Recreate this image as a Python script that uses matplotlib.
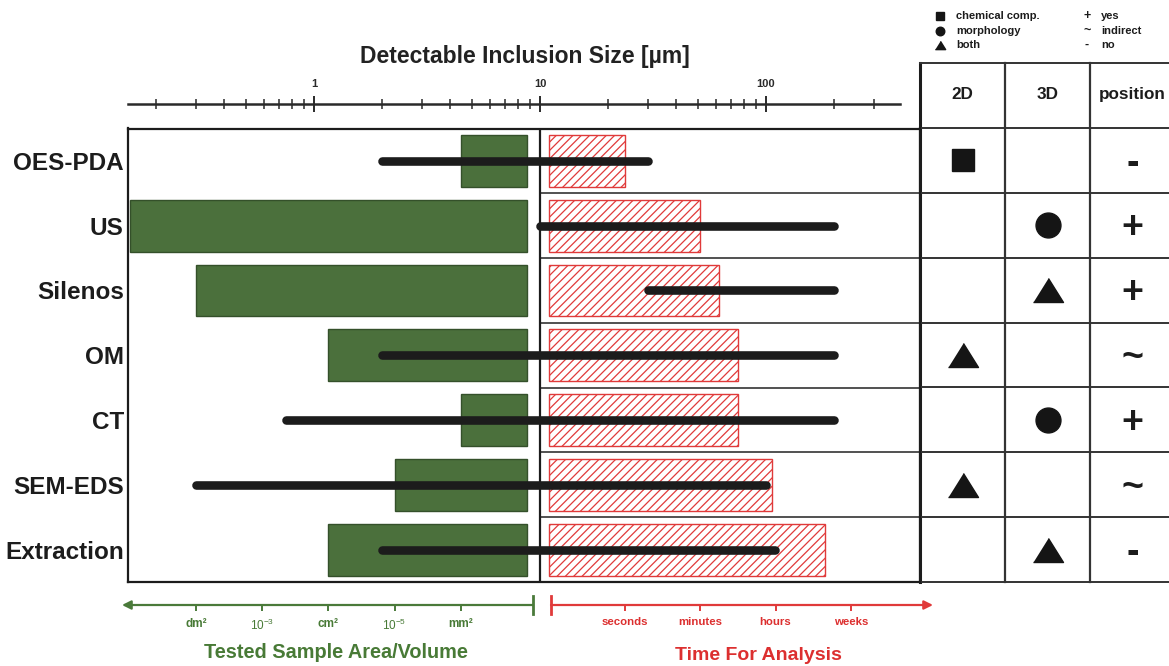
import numpy as np
import matplotlib
matplotlib.use("Agg")
import matplotlib.pyplot as plt
from matplotlib.lines import Line2D
from matplotlib.ticker import LogLocator, NullFormatter, NullLocator, FuncFormatter

# ---------------------------------------------------------------- data
methods = ["OES-PDA", "US", "Silenos", "OM", "CT", "SEM-EDS", "Extraction"]

# detectable inclusion size range [µm]
size_min = [2, 10, 30, 2, 0.75, 0.3, 2]
size_max = [30, 200, 200, 200, 200, 100, 110]

# tested sample area / volume (upper end, m^2); bars start from area_origin
area_tested = [1e-6, 1e-1, 1e-2, 1e-4, 1e-6, 1e-5, 1e-4]
area_origin = 1e-7
area_tick_values = [1e-2, 1e-3, 1e-4, 1e-5, 1e-6]
area_tick_labels = ["dm²", r"$\mathregular{10^{-3}}$", "cm²",
                    r"$\mathregular{10^{-5}}$", "mm²"]
area_tick_bold = [True, False, True, False, True]

# time for analysis (1 = seconds, 2 = minutes, 3 = hours, 4 = weeks)
time_needed = [1.0, 2.0, 2.25, 2.5, 2.5, 2.95, 3.65]
time_tick_values = [1, 2, 3, 4]
time_tick_labels = ["seconds", "minutes", "hours", "weeks"]

# information content: marker in 2D / 3D column, position symbol
info_2d = ["square", None, None, "triangle", None, "triangle", None]
info_3d = [None, "circle", "triangle", None, "circle", None, "triangle"]
position = ["-", "+", "+", "~", "+", "~", "-"]
table_headers = ["2D", "3D", "position"]

marker_legend = [("square", "chemical comp."), ("circle", "morphology"), ("triangle", "both")]
position_legend = [("+", "yes"), ("~", "indirect"), ("-", "no")]

# ---------------------------------------------------------------- style
plt.rcParams["font.family"] = ["Liberation Sans", "DejaVu Sans"]
plt.rcParams["font.weight"] = "bold"
plt.rcParams["mathtext.fontset"] = "custom"
plt.rcParams["mathtext.rm"] = "Liberation Sans"
plt.rcParams["mathtext.it"] = "Liberation Sans:italic"
plt.rcParams["mathtext.bf"] = "Liberation Sans:bold"
plt.rcParams["hatch.linewidth"] = 0.9

GREEN_FILL = "#4b703c"
GREEN_EDGE = "#34502a"
GREEN_LINE = "#4a7a3a"
GREEN_TEXT = "#487a36"
RED = "#e03a3a"
RED_TEXT = "#dc2f2f"
INK = "#1c1c1c"
GRID = "#333333"

MARKERS = {
    "square": ("s", 1.0),
    "circle": ("o", 1.12),
    "triangle": ([(-1, -0.8), (1, -0.8), (0, 0.8)], 1.35),
}

W, H = 1169, 666
fig = plt.figure(figsize=(W / 100, H / 100), dpi=100, facecolor="white")


def box(x0, y0, x1, y1):
    """Axes rectangle from pixel coordinates measured from the top-left."""
    return [x0 / W, 1 - y1 / H, (x1 - x0) / W, (y1 - y0) / H]


# pixel -> value relations of the three horizontal scales
def size_at(p):
    return 10 ** ((p - 314) / 226.0)


def area_at(p):
    return 10 ** (-2 - (p - 196) / 66.2)


def time_at(p):
    return (p - 549) / 75.5


BOX_L, BOX_R, BOX_T, BOX_B = 128, 920, 128.5, 582
DIV = 539
n = len(methods)
rows = np.arange(n)
ylim = (n - 0.5, -0.5)

# ---------------------------------------------------------------- tested area bars
ax_area = fig.add_axes(box(BOX_L, BOX_T, DIV, BOX_B))
ax_area.set_xscale("log")
ax_area.set_xlim(area_at(BOX_L), area_at(DIV))
ax_area.set_ylim(*ylim)
ax_area.axis("off")
ax_area.barh(rows, [a - area_origin for a in area_tested], left=area_origin,
             height=0.8, color=GREEN_FILL, edgecolor=GREEN_EDGE, linewidth=1.0)

# ---------------------------------------------------------------- analysis time bars
ax_time = fig.add_axes(box(DIV, BOX_T, BOX_R, BOX_B))
t0, t1 = time_at(DIV), time_at(BOX_R)
ax_time.set_xlim(t0, t1)
ax_time.set_ylim(*ylim)
ax_time.axis("off")
ax_time.barh(rows, time_needed, left=0, height=0.8, facecolor="white",
             edgecolor=RED, hatch="////", linewidth=1.0)
ax_time.hlines(np.arange(0.5, n - 0.5), t0, t1, color=GRID, linewidth=1.2)

# ---------------------------------------------------------------- inclusion size ranges
ax = fig.add_axes(box(BOX_L, BOX_T, BOX_R, BOX_B))
ax.set_zorder(3)
ax.patch.set_visible(False)
ax.set_xscale("log")
ax.set_xlim(size_at(BOX_L), size_at(BOX_R))
ax.set_ylim(*ylim)
for i in rows:
    ax.plot([size_min[i], size_max[i]], [i, i], color=INK, linewidth=6.2,
            solid_capstyle="round", zorder=4)
ax.axvline(10, color=INK, linewidth=1.6, zorder=3)
for s in ax.spines.values():
    s.set_linewidth(1.6)
    s.set_color(INK)
ax.set_xticks([])
ax.xaxis.set_minor_locator(NullLocator())
ax.set_yticks(rows, methods)
ax.tick_params(axis="y", length=0, pad=3, labelsize=17.5, labelcolor=INK)

# ---------------------------------------------------------------- top size scale
ax_s = fig.add_axes(box(128, 104, 899.5, 104))
ax_s.patch.set_visible(False)
ax_s.set_xscale("log")
ax_s.set_xlim(size_at(128), size_at(899.5))
for k, s in ax_s.spines.items():
    s.set_visible(k == "top")
ax_s.spines["top"].set_linewidth(1.8)
ax_s.spines["top"].set_color("#2a2a2a")
ax_s.set_yticks([])
ax_s.xaxis.set_ticks_position("top")
ax_s.xaxis.set_label_position("top")
ax_s.xaxis.set_major_locator(LogLocator(base=10))
ax_s.xaxis.set_minor_locator(LogLocator(base=10, subs=np.arange(2, 10)))
ax_s.xaxis.set_major_formatter(FuncFormatter(lambda v, _: f"{v:g}"))
ax_s.xaxis.set_minor_formatter(NullFormatter())
ax_s.tick_params(axis="x", which="major", direction="inout", length=12, width=1.4,
                 colors="#2a2a2a", labelsize=8, pad=5)
ax_s.tick_params(axis="x", which="minor", direction="inout", length=7, width=1.1,
                 colors="#2a2a2a")

fig.text(525 / W, 1 - 57 / H, "Detectable Inclusion Size [µm]", ha="center",
         va="center", fontsize=16.5, color="#222222")

# ---------------------------------------------------------------- bottom area axis
ax_ga = fig.add_axes(box(122, 596, 533, 614))
ax_ga.patch.set_visible(False)
ax_ga.set_xscale("log")
ga0, ga1 = area_at(122), area_at(533)
ax_ga.set_xlim(ga0, ga1)
ax_ga.set_ylim(-1, 1)
for s in ax_ga.spines.values():
    s.set_visible(False)
ax_ga.spines["bottom"].set_position(("data", 0))
ax_ga.set_yticks([])
ax_ga.annotate("", xy=(ga0, 0), xytext=(ga1, 0),
               arrowprops=dict(arrowstyle="-|>", color=GREEN_LINE, lw=1.6,
                               mutation_scale=13, shrinkA=0, shrinkB=0))
ax_ga.plot([ga1, ga1], [-1, 1], color=GREEN_LINE, linewidth=2.0, clip_on=False)
ax_ga.xaxis.set_minor_locator(NullLocator())
ax_ga.set_xticks(area_tick_values, area_tick_labels)
ax_ga.tick_params(axis="x", direction="out", length=4.5, width=1.4, color=GREEN_LINE,
                  labelcolor=GREEN_TEXT, labelsize=8.5, pad=5)
for lbl, bold in zip(ax_ga.get_xticklabels(), area_tick_bold):
    lbl.set_fontweight("bold" if bold else "normal")
fig.text(336 / W, 1 - 652 / H, "Tested Sample Area/Volume", ha="center",
         va="center", fontsize=14.3, color=GREEN_TEXT)

# ---------------------------------------------------------------- bottom time axis
ax_ta = fig.add_axes(box(551, 596, 933, 614))
ax_ta.patch.set_visible(False)
ta0, ta1 = time_at(551), time_at(933)
ax_ta.set_xlim(ta0, ta1)
ax_ta.set_ylim(-1, 1)
for s in ax_ta.spines.values():
    s.set_visible(False)
ax_ta.spines["bottom"].set_position(("data", 0))
ax_ta.set_yticks([])
ax_ta.annotate("", xy=(ta1, 0), xytext=(ta0, 0),
               arrowprops=dict(arrowstyle="-|>", color=RED, lw=1.6,
                               mutation_scale=13, shrinkA=0, shrinkB=0))
ax_ta.plot([ta0, ta0], [-1, 1], color=RED, linewidth=2.0, clip_on=False)
ax_ta.set_xticks(time_tick_values, time_tick_labels)
ax_ta.tick_params(axis="x", direction="out", length=4.5, width=1.4, color=RED,
                  labelcolor=RED_TEXT, labelsize=8.2, pad=4)
fig.text(758 / W, 1 - 655 / H, "Time For Analysis", ha="center", va="center",
         fontsize=14.0, color=RED_TEXT)

# ---------------------------------------------------------------- information table
COL_W = 85.0
ax_tab = fig.add_axes(box(920, 63, 1169, 582))
tx1 = (1169 - 920) / COL_W
ax_tab.set_xlim(0, tx1)
ax_tab.set_ylim(n - 0.5, -1.5)
ax_tab.axis("off")
ax_tab.plot([0, 0], [-1.5, n - 0.5], color=INK, linewidth=2.2, clip_on=False)
for cx in (1, 2):
    ax_tab.plot([cx, cx], [-1.5, n - 0.5], color=GRID, linewidth=1.6, clip_on=False)
for ry in np.arange(-1.5, n, 1.0):
    ax_tab.plot([0, tx1], [ry, ry], color=GRID, linewidth=1.4, clip_on=False)

for c, head in enumerate(table_headers):
    ax_tab.text(c + 0.5, -1.02, head, ha="center", va="center", fontsize=12.3,
                color=INK)

for col, info in ((0, info_2d), (1, info_3d)):
    for i, kind in enumerate(info):
        if kind is None:
            continue
        mk, scale = MARKERS[kind]
        ax_tab.plot(col + 0.5, i, linestyle="none", marker=mk,
                    markersize=16 * scale, color="#151515")
for i, sym in enumerate(position):
    ax_tab.text(2.5, i + 0.05, sym, ha="center", va="center", fontsize=27,
                color=INK)

# ---------------------------------------------------------------- legend above the table
for j, (kind, label) in enumerate(marker_legend):
    yy = 1 - (16 + 14.5 * j) / H
    mk, scale = MARKERS[kind]
    fig.add_artist(Line2D([940 / W], [yy], linestyle="none", marker=mk,
                          markersize=5.5 * scale, color="#151515",
                          transform=fig.transFigure))
    fig.text(956 / W, yy, label, ha="left", va="center", fontsize=8, color=INK)
for j, (sym, label) in enumerate(position_legend):
    yy = 1 - (16 + 14.5 * j) / H
    fig.text(1087 / W, yy, sym, ha="center", va="center", fontsize=9, color=INK)
    fig.text(1101 / W, yy, label, ha="left", va="center", fontsize=8, color=INK)

fig.savefig("out.png", dpi=100, facecolor="white")
